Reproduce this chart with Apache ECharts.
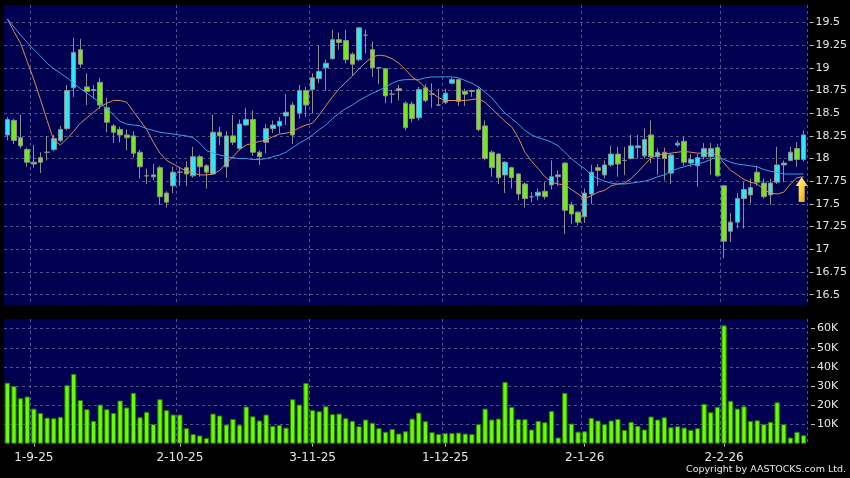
<!DOCTYPE html>
<html>
<head>
<meta charset="utf-8">
<script src="https://cdn.jsdelivr.net/npm/echarts@6/dist/echarts.min.js"></script>
<style>
  html, body { margin: 0; padding: 0; background: #000; }
  #chart { width: 850px; height: 478px; }
</style>
</head>
<body>
<div id="chart"></div>
<script>
// trading days shown on the chart (d-m-yy)
const dates = [
  '26-8-25', '27-8-25', '28-8-25', '29-8-25',
  '1-9-25', '2-9-25', '3-9-25', '4-9-25', '5-9-25', '8-9-25', '9-9-25', '10-9-25', '11-9-25', '12-9-25',
  '15-9-25', '16-9-25', '17-9-25', '18-9-25', '19-9-25', '22-9-25', '23-9-25', '24-9-25', '25-9-25', '26-9-25',
  '29-9-25', '30-9-25',
  '2-10-25', '3-10-25', '6-10-25', '8-10-25', '9-10-25', '10-10-25', '13-10-25', '14-10-25', '15-10-25', '16-10-25',
  '17-10-25', '20-10-25', '21-10-25', '22-10-25', '23-10-25', '24-10-25', '27-10-25', '28-10-25', '30-10-25', '31-10-25',
  '3-11-25', '4-11-25', '5-11-25', '6-11-25', '7-11-25', '10-11-25', '11-11-25', '12-11-25', '13-11-25', '14-11-25',
  '17-11-25', '18-11-25', '19-11-25', '20-11-25', '21-11-25', '24-11-25', '25-11-25', '26-11-25', '27-11-25', '28-11-25',
  '1-12-25', '2-12-25', '3-12-25', '4-12-25', '5-12-25', '8-12-25', '9-12-25', '10-12-25', '11-12-25', '12-12-25',
  '15-12-25', '16-12-25', '17-12-25', '18-12-25', '19-12-25', '22-12-25', '23-12-25', '24-12-25', '29-12-25', '30-12-25',
  '31-12-25',
  '2-1-26', '5-1-26', '6-1-26', '7-1-26', '8-1-26', '9-1-26', '12-1-26', '13-1-26', '14-1-26', '15-1-26',
  '16-1-26', '19-1-26', '20-1-26', '21-1-26', '22-1-26', '23-1-26', '26-1-26', '27-1-26', '28-1-26', '29-1-26',
  '30-1-26',
  '2-2-26', '3-2-26', '4-2-26', '5-2-26', '6-2-26', '9-2-26', '10-2-26', '11-2-26', '12-2-26', '13-2-26',
  '16-2-26', '20-2-26', '23-2-26'
]

const tickLabels = ['1-9-25', '2-10-25', '3-11-25', '1-12-25', '2-1-26', '2-2-26']

const opens = [
  18.26, 18.42, 18.23, 18.10, 17.96, 18.01, 18.07, 18.10, 18.20, 18.33,
  18.78, 19.20, 18.79, 18.76, 18.84, 18.56, 18.36, 18.32, 18.26, 18.25,
  18.07, 17.81, 17.82, 17.90, 17.62, 17.70, 17.85, 17.90, 17.81, 18.02,
  17.92, 17.83, 18.29, 17.91, 18.25, 18.11, 18.37, 18.43, 18.07, 18.18,
  18.33, 18.36, 18.47, 18.59, 18.50, 18.75, 18.76, 18.88, 19.00, 19.10,
  19.31, 19.30, 19.15, 19.09, 19.36, 19.20, 19.00, 18.99, 18.71, 18.75,
  18.61, 18.60, 18.45, 18.78, 18.71, 18.59, 18.62, 18.83, 18.87, 18.74,
  18.75, 18.76, 18.36, 18.07, 18.05, 17.82, 17.90, 17.83, 17.72, 17.58,
  17.59, 17.64, 17.71, 17.80, 17.95, 17.49, 17.41, 17.36, 17.61, 17.90,
  17.82, 17.93, 18.05, 17.98, 18.00, 18.12, 18.03, 18.26, 18.02, 18.07,
  17.84, 18.15, 18.19, 17.95, 17.92, 18.02, 18.02, 18.12, 17.70, 17.20,
  17.30, 17.56, 17.60, 17.85, 17.73, 17.60, 17.74, 17.93, 17.98, 18.11,
  17.99
]

const closes = [
  18.43, 18.20, 18.14, 17.96, 17.94, 17.96, 18.07, 18.22, 18.32, 18.75,
  19.17, 19.04, 18.74, 18.75, 18.59, 18.40, 18.29, 18.26, 18.23, 18.06,
  17.91, 17.81, 17.80, 17.58, 17.52, 17.85, 17.85, 17.83, 18.02, 17.91,
  17.85, 18.29, 18.25, 18.25, 18.18, 18.38, 18.43, 18.07, 18.02, 18.33,
  18.37, 18.41, 18.51, 18.26, 18.75, 18.59, 18.89, 18.96, 19.05, 19.31,
  19.28, 19.09, 19.04, 19.44, 19.36, 19.00, 19.00, 18.69, 18.71, 18.77,
  18.34, 18.44, 18.76, 18.64, 18.71, 18.59, 18.72, 18.87, 18.63, 18.71,
  18.74, 18.32, 18.00, 17.90, 17.79, 17.96, 17.79, 17.61, 17.56, 17.58,
  17.63, 17.58, 17.80, 17.82, 17.43, 17.39, 17.30, 17.62, 17.85, 17.87,
  17.93, 18.05, 17.94, 17.98, 18.14, 18.14, 18.21, 18.02, 18.07, 18.00,
  18.04, 18.17, 17.96, 17.99, 18.01, 18.11, 18.11, 17.81, 17.09, 17.30,
  17.56, 17.66, 17.68, 17.74, 17.58, 17.73, 17.93, 17.95, 18.07, 17.99,
  18.26
]

const lows = [
  18.20, 18.16, 18.11, 17.91, 17.90, 17.84, 17.98, 18.08, 18.18, 18.31,
  18.68, 19.00, 18.59, 18.66, 18.55, 18.29, 18.17, 18.18, 18.09, 18.01,
  17.78, 17.72, 17.76, 17.49, 17.46, 17.62, 17.70, 17.70, 17.79, 17.80,
  17.67, 17.82, 18.15, 17.79, 18.15, 18.09, 18.36, 18.03, 17.93, 18.06,
  18.28, 18.28, 18.37, 18.16, 18.44, 18.46, 18.50, 18.83, 18.75, 19.09,
  19.20, 19.05, 18.91, 19.07, 19.16, 18.90, 18.82, 18.61, 18.61, 18.64,
  18.31, 18.40, 18.42, 18.62, 18.56, 18.58, 18.60, 18.82, 18.58, 18.58,
  18.68, 18.30, 17.98, 17.80, 17.72, 17.62, 17.67, 17.54, 17.46, 17.52,
  17.54, 17.55, 17.66, 17.70, 17.17, 17.28, 17.26, 17.29, 17.50, 17.70,
  17.78, 17.91, 17.80, 17.82, 17.99, 18.00, 18.00, 17.95, 17.82, 17.76,
  17.72, 18.13, 17.92, 17.91, 17.69, 17.99, 17.82, 17.80, 16.90, 17.08,
  17.23, 17.23, 17.51, 17.70, 17.56, 17.49, 17.72, 17.74, 17.97, 17.91,
  17.97
]

const highs = [
  18.46, 18.44, 18.48, 18.12, 18.15, 18.07, 18.25, 18.26, 18.36, 18.81,
  19.33, 19.32, 18.94, 18.81, 18.89, 18.67, 18.38, 18.35, 18.32, 18.30,
  18.10, 17.89, 17.94, 17.92, 17.64, 17.91, 17.91, 17.97, 18.13, 18.04,
  17.94, 18.48, 18.35, 18.30, 18.48, 18.43, 18.56, 18.53, 18.09, 18.38,
  18.42, 18.46, 18.71, 18.62, 18.81, 18.79, 18.94, 19.25, 19.09, 19.42,
  19.39, 19.42, 19.17, 19.45, 19.42, 19.29, 19.01, 19.00, 18.76, 18.81,
  18.63, 18.63, 18.79, 18.82, 18.83, 18.77, 18.77, 18.89, 18.88, 18.77,
  18.76, 18.79, 18.42, 18.09, 18.06, 17.97, 17.91, 17.84, 17.74, 17.63,
  17.67, 17.74, 17.98, 17.87, 17.96, 17.52, 17.42, 17.67, 17.93, 17.94,
  17.98, 18.14, 18.13, 18.13, 18.26, 18.26, 18.33, 18.42, 18.11, 18.12,
  18.06, 18.20, 18.24, 18.05, 18.05, 18.17, 18.17, 18.16, 17.71, 17.40,
  17.62, 17.74, 17.78, 17.92, 17.78, 17.78, 18.13, 17.98, 18.13, 18.18,
  18.31
]

// moving averages as drawn on the chart
const maShort = [
  19.54, 19.40, 19.27, 19.07, 18.87, 18.65, 18.42, 18.20, 18.15, 18.22,
  18.30, 18.39, 18.45, 18.51, 18.57, 18.61, 18.64, 18.64, 18.62, 18.52,
  18.42, 18.32, 18.18, 18.06, 17.98, 17.94, 17.90, 17.86, 17.84, 17.82,
  17.82, 17.83, 17.87, 17.95, 18.02, 18.10, 18.15, 18.17, 18.19, 18.20,
  18.24, 18.27, 18.28, 18.30, 18.34, 18.37, 18.39, 18.48, 18.58, 18.68,
  18.77, 18.84, 18.91, 18.99, 19.06, 19.12, 19.14, 19.13, 19.10, 19.05,
  18.98, 18.90, 18.85, 18.78, 18.72, 18.67, 18.64, 18.64, 18.64, 18.64,
  18.65, 18.66, 18.62, 18.55, 18.48, 18.41, 18.35, 18.23, 18.07, 17.97,
  17.89, 17.80, 17.74, 17.72, 17.71, 17.66, 17.61, 17.56, 17.59, 17.63,
  17.65, 17.70, 17.72, 17.73, 17.78, 17.85, 17.93, 18.01, 18.04, 18.05,
  18.06, 18.07, 18.08, 18.07, 18.06, 18.06, 18.06, 18.04, 17.95, 17.87,
  17.82, 17.77, 17.74, 17.72, 17.66, 17.62, 17.61, 17.63, 17.72, 17.79,
  17.80
]

const maLong = [
  19.54, 19.45, 19.36, 19.28, 19.20, 19.13, 19.05, 18.99, 18.94, 18.89,
  18.83, 18.77, 18.72, 18.67, 18.61, 18.55, 18.48, 18.41, 18.38, 18.37,
  18.36, 18.33, 18.31, 18.29, 18.28, 18.27, 18.26, 18.25, 18.23, 18.17,
  18.09, 18.06, 18.04, 18.02, 18.01, 18.00, 18.00, 17.99, 17.99, 18.00,
  18.02, 18.04, 18.07, 18.12, 18.17, 18.21, 18.26, 18.32, 18.37, 18.44,
  18.50, 18.55, 18.59, 18.64, 18.68, 18.72, 18.75, 18.79, 18.83, 18.86,
  18.87, 18.87, 18.87, 18.89, 18.90, 18.90, 18.90, 18.90, 18.89, 18.86,
  18.83, 18.79, 18.73, 18.67, 18.58, 18.50, 18.44, 18.38, 18.31, 18.26,
  18.23, 18.21, 18.18, 18.14, 18.07, 18.00, 17.94, 17.89, 17.82, 17.78,
  17.75, 17.73, 17.72, 17.72, 17.73, 17.74, 17.75, 17.77, 17.80, 17.82,
  17.86, 17.89, 17.91, 17.93, 17.94, 17.96, 17.99, 18.02, 17.99, 17.96,
  17.94, 17.93, 17.92, 17.91, 17.88, 17.86, 17.85, 17.83, 17.83, 17.83,
  17.83
]

const volumes = [
  31800, 30000, 23700, 24600, 18300, 16000, 13600, 13300, 14000, 30500,
  36400, 22800, 18000, 11900, 20400, 18000, 16000, 22500, 18900, 26500,
  13800, 16600, 10200, 23200, 17500, 15200, 15200, 8100, 5000, 4300,
  2900, 15700, 14700, 10000, 12900, 9800, 19400, 14300, 12100, 15200,
  9300, 9800, 8400, 23200, 20400, 31700, 17500, 16900, 19500, 15400,
  15700, 13300, 11900, 9100, 12600, 10900, 8100, 6200, 7700, 5300,
  6500, 13100, 16200, 11700, 6000, 5000, 5500, 5600, 5800, 5300,
  5000, 10200, 18300, 12600, 13100, 32200, 19200, 12800, 12800, 7400,
  11900, 11200, 17100, 3200, 26500, 10500, 6300, 6500, 13500, 12100,
  10200, 12100, 12900, 7200, 11400, 9300, 7400, 14200, 12600, 13800,
  8600, 9100, 8400, 7200, 8100, 20800, 16400, 19200, 61700, 22300,
  18300, 19500, 11900, 12200, 10200, 11400, 21600, 10200, 3200, 6200,
  4400
]

// signal arrow under the last candle
const signalDate = '23-2-26'
const signalPrice = 17.66

const candles = opens.map((o, i) => [o, closes[i], lows[i], highs[i]])

const NAVY = '#000050'
const GRID_LINE = '#52528e'
const TEXT = '#e6e6e6'
const FONT = 'DejaVu Sans'

const showTick = (idx, val) => tickLabels.indexOf(val) >= 0

const dashed = { color: GRID_LINE, type: [3, 3], width: 1 }

const chart = echarts.init(document.getElementById('chart'), null, { renderer: 'canvas' })

const option = {
  backgroundColor: '#000',
  animation: false,
  title: {
    text: 'Copyright by AASTOCKS.com Ltd.',
    right: 4,
    top: 465,
    padding: 0,
    textStyle: { color: TEXT, fontSize: 9.5, fontWeight: 'normal', fontFamily: FONT }
  },
  grid: [
    // price panel
    { left: 4, top: 5, width: 803, height: 300, show: true, backgroundColor: NAVY, borderWidth: 0 },
    // price labels (19.5 .. 16.5)
    { left: 4, top: 22.4, width: 803, height: 272.3, show: false },
    // volume panel
    { left: 4, top: 319, width: 803, height: 124.7, show: true, backgroundColor: NAVY, borderWidth: 0 },
    // volume labels (60K .. 10K)
    { left: 4, top: 328.6, width: 803, height: 95.9, show: false }
  ],
  xAxis: [
    {
      gridIndex: 0, type: 'category', data: dates, boundaryGap: true,
      axisLine: { show: false }, axisTick: { show: false }, axisLabel: { show: false },
      splitLine: { show: true, interval: showTick, lineStyle: dashed }
    },
    { gridIndex: 1, type: 'category', data: dates, show: false },
    {
      gridIndex: 2, type: 'category', data: dates, boundaryGap: true, offset: 3,
      axisLine: { show: false },
      axisTick: { show: true, alignWithLabel: true, interval: showTick, length: 3, lineStyle: { color: '#bbb' } },
      axisLabel: { interval: showTick, color: TEXT, fontFamily: FONT, fontSize: 12, margin: 5 },
      splitLine: { show: true, interval: showTick, lineStyle: dashed }
    },
    { gridIndex: 3, type: 'category', data: dates, show: false }
  ],
  yAxis: [
    { gridIndex: 0, type: 'value', min: 16.387, max: 19.692, show: false },
    {
      gridIndex: 1, type: 'value', position: 'right', min: 16.5, max: 19.5, interval: 0.25, offset: 4,
      axisLine: { show: false },
      axisTick: { show: true, length: 4, lineStyle: { color: '#bbb' } },
      axisLabel: { color: TEXT, fontFamily: FONT, fontSize: 11, margin: 6 },
      splitLine: { show: true, lineStyle: dashed }
    },
    { gridIndex: 2, type: 'value', min: 0, max: 65000, show: false },
    {
      gridIndex: 3, type: 'value', position: 'right', min: 10000, max: 60000, interval: 10000, offset: 4,
      axisLine: { show: false },
      axisTick: { show: true, length: 4, lineStyle: { color: '#bbb' } },
      axisLabel: { color: TEXT, fontFamily: FONT, fontSize: 11, margin: 6, formatter: v => (v / 1000) + 'K' },
      splitLine: { show: true, lineStyle: dashed }
    }
  ],
  series: [
    {
      type: 'candlestick',
      xAxisIndex: 0,
      yAxisIndex: 0,
      data: candles,
      barWidth: 5,
      itemStyle: {
        color: '#30e6f4',
        color0: '#74e81e',
        borderColor: '#8e8e8e',
        borderColor0: '#8e8e8e',
        borderWidth: 1
      },
      markPoint: {
        silent: true,
        symbol: 'path://M6 0 L12 9 L9 9 L9 25 L3 25 L3 9 L0 9 Z',
        symbolSize: [12, 25],
        symbolOffset: [-2, 0],
        label: { show: false },
        itemStyle: {
          color: new echarts.graphic.LinearGradient(0, 0, 1, 1, [
            { offset: 0, color: '#fff6a8' },
            { offset: 0.5, color: '#ffd23a' },
            { offset: 1, color: '#e49a00' }
          ])
        },
        data: [{ coord: [signalDate, signalPrice] }]
      }
    },
    {
      type: 'line',
      xAxisIndex: 0,
      yAxisIndex: 0,
      data: maShort,
      symbol: 'none',
      lineStyle: { color: '#dc8c5c', width: 1 },
      z: 3
    },
    {
      type: 'line',
      xAxisIndex: 0,
      yAxisIndex: 0,
      data: maLong,
      symbol: 'none',
      lineStyle: { color: '#3c9fe8', width: 1 },
      z: 3
    },
    {
      type: 'bar',
      xAxisIndex: 2,
      yAxisIndex: 2,
      data: volumes,
      barWidth: '80%',
      itemStyle: { color: '#66ff00', borderColor: '#2c7a00', borderWidth: 1 }
    }
  ]
}

chart.setOption(option)
</script>
</body>
</html>
